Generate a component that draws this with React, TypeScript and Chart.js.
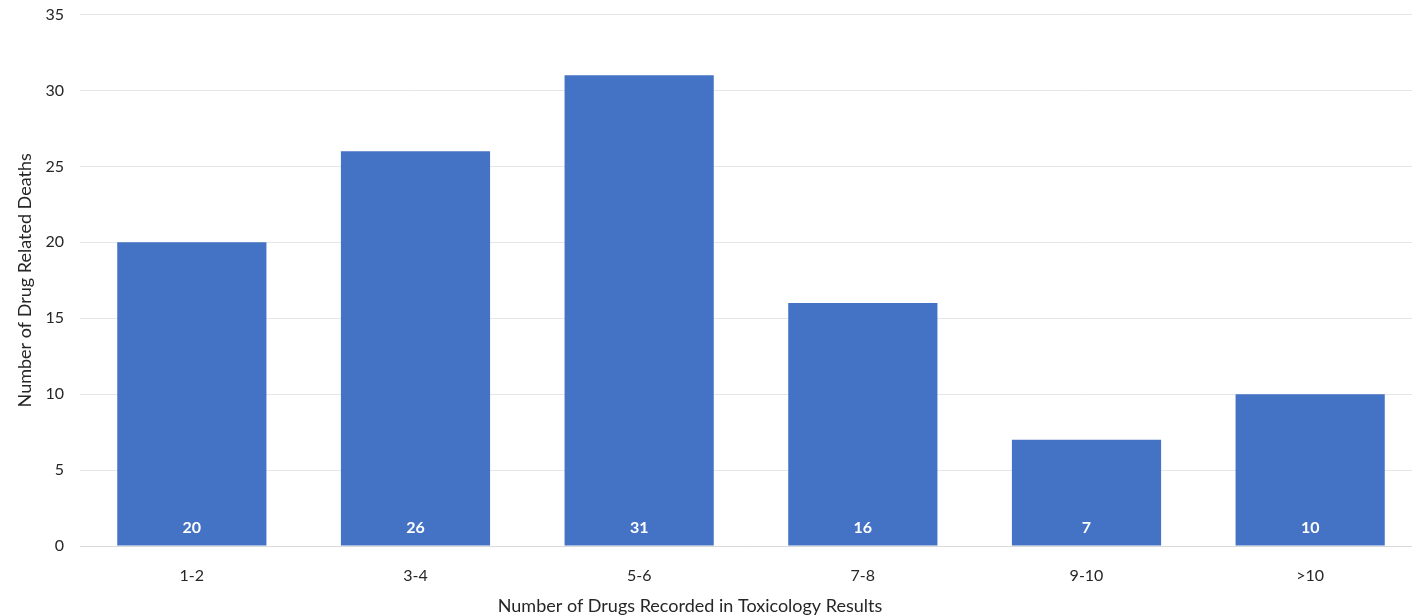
import React, { useEffect, useRef } from "react";
import { Chart, registerables } from "chart.js";

Chart.register(...registerables);

const categories = ["1-2", "3-4", "5-6", "7-8", "9-10", ">10"];
const deaths = [20, 26, 31, 16, 7, 10];
const yTicks = [0, 5, 10, 15, 20, 25, 30, 35];
const xTitle = "Number of Drugs Recorded in Toxicology Results";
const yTitle = "Number of Drug Related Deaths";

const FONT = "Lato, 'Open Sans', sans-serif";

const valueLabels = {
  id: "valueLabels",
  afterDatasetsDraw(chart: any) {
    const { ctx } = chart;
    const meta = chart.getDatasetMeta(0);
    const yScale = chart.scales.y;
    ctx.save();
    ctx.fillStyle = "#ffffff";
    ctx.font = `bold 16px ${FONT}`;
    ctx.textAlign = "center";
    ctx.textBaseline = "middle";
    meta.data.forEach((bar: any, i: number) => {
      ctx.fillText(String(deaths[i]), bar.x, yScale.getPixelForValue(0) - 18);
    });
    ctx.restore();
  },
};

const xTitlePlugin = {
  id: "xTitlePlugin",
  afterDraw(chart: any) {
    const { ctx } = chart;
    const xScale = chart.scales.x;
    ctx.save();
    ctx.fillStyle = "#262626";
    ctx.font = `18px ${FONT}`;
    ctx.textAlign = "center";
    ctx.textBaseline = "middle";
    ctx.fillText(xTitle, 690, xScale.bottom - 19);
    ctx.restore();
  },
};

export default function App() {
  const ref = useRef<HTMLCanvasElement | null>(null);
  useEffect(() => {
    if (!ref.current) return;
    const chart = new Chart(ref.current, {
      type: "bar",
      data: {
        labels: categories,
        datasets: [
          {
            data: deaths,
            backgroundColor: "#4472C4",
            barPercentage: 1,
            categoryPercentage: 0.667,
          },
        ],
      },
      options: {
        responsive: false,
        animation: false,
        layout: { padding: { top: 5, left: 0, right: 0, bottom: 0 } },
        plugins: { legend: { display: false }, tooltip: { enabled: false } },
        scales: {
          x: {
            grid: { display: false },
            border: { display: true, color: "#d9d9d9", width: 1 },
            ticks: { color: "#262626", font: { family: FONT, size: 16 }, padding: 12 },
            title: { display: false },
            afterFit(scale: any) {
              scale.height = 79;
            },
          },
          y: {
            min: 0,
            max: 35,
            afterBuildTicks(scale: any) {
              scale.ticks = yTicks.map((v) => ({ value: v }));
            },
            grid: { color: "#e6e6e6", drawTicks: false },
            border: { display: false },
            ticks: { color: "#262626", font: { family: FONT, size: 16 }, padding: 16 },
            title: {
              display: true,
              text: yTitle,
              color: "#262626",
              font: { family: FONT, size: 18 },
              padding: { top: 14, bottom: 0 },
            },
            afterFit(scale: any) {
              scale.width = 80;
            },
          },
        },
      },
      plugins: [valueLabels, xTitlePlugin],
    });
    return () => chart.destroy();
  }, []);
  return (
    <div
      style={{
        position: "fixed",
        left: 0,
        top: 0,
        width: 1412,
        height: 616,
        overflow: "hidden",
        background: "#ffffff",
      }}
    >
      <canvas
        ref={ref}
        width={1422}
        height={636}
        style={{ display: "block", marginTop: -11 }}
      />
    </div>
  );
}
